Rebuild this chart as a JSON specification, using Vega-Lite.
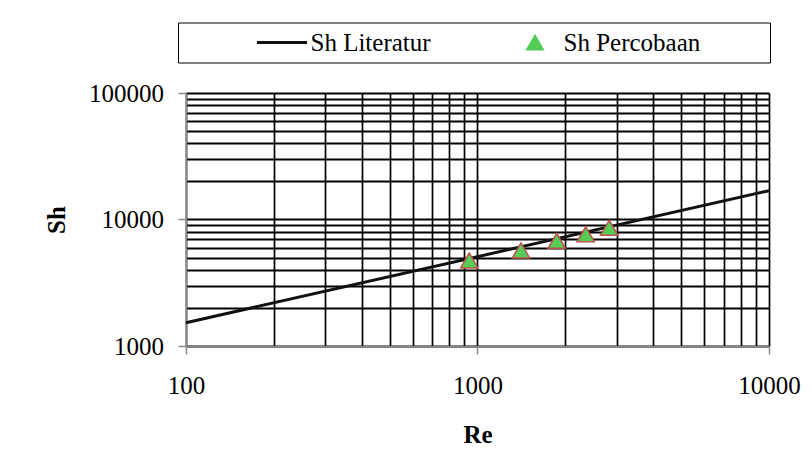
{
  "$schema": "https://vega.github.io/schema/vega-lite/v6.json",
  "width": 583,
  "height": 253,
  "autosize": {"type": "none"},
  "padding": {"left": 186, "top": 93, "right": 43, "bottom": 124},
  "background": "white",
  "config": {"view": {"stroke": null}, "font": "Liberation Serif"},
  "data": {
    "values": [
      {"series": "Sh Literatur", "Re": 100, "Sh": 1528},
      {"series": "Sh Literatur", "Re": 10000, "Sh": 16900},
      {"series": "Sh Percobaan", "Re": 937, "Sh": 4740},
      {"series": "Sh Percobaan", "Re": 1410, "Sh": 5690},
      {"series": "Sh Percobaan", "Re": 1870, "Sh": 6790},
      {"series": "Sh Percobaan", "Re": 2350, "Sh": 7640},
      {"series": "Sh Percobaan", "Re": 2830, "Sh": 8600}
    ]
  },
  "encoding": {
    "x": {
      "field": "Re",
      "type": "quantitative",
      "scale": {"type": "log", "domain": [100, 10000], "nice": false},
      "axis": {
        "values": [100, 200, 300, 400, 500, 600, 700, 800, 900, 1000, 2000, 3000, 4000, 5000, 6000, 7000, 8000, 9000, 10000],
        "labelExpr": "datum.value == 100 || datum.value == 1000 || datum.value == 10000 ? format(datum.value, 'd') : ''",
        "labelFont": "Liberation Serif",
        "labelFontSize": 25,
        "labelColor": "#000000",
        "labelPadding": 19,
        "labelFlush": false,
        "labelOverlap": false,
        "tickSize": 8,
        "tickColor": "#888888",
        "tickWidth": 1.5,
        "tickOpacity": {"condition": {"test": "datum.value == 100 || datum.value == 1000 || datum.value == 10000", "value": 1}, "value": 0},
        "domainColor": "#888888",
        "domainWidth": 1.5,
        "grid": true,
        "gridColor": "#000000",
        "gridWidth": 1.7,
        "gridOpacity": 1,
        "title": "Re",
        "titleFont": "Liberation Serif",
        "titleFontSize": 25,
        "titleFontWeight": "bold",
        "titleColor": "#000000",
        "titlePadding": 24
      }
    },
    "y": {
      "field": "Sh",
      "type": "quantitative",
      "scale": {"type": "log", "domain": [1000, 100000], "nice": false},
      "axis": {
        "values": [1000, 2000, 3000, 4000, 5000, 6000, 7000, 8000, 9000, 10000, 20000, 30000, 40000, 50000, 60000, 70000, 80000, 90000, 100000],
        "labelExpr": "datum.value == 1000 || datum.value == 10000 || datum.value == 100000 ? format(datum.value, 'd') : ''",
        "labelFont": "Liberation Serif",
        "labelFontSize": 25,
        "labelColor": "#000000",
        "labelPadding": 14.5,
        "labelOverlap": false,
        "labelFlush": false,
        "tickSize": 8,
        "tickColor": "#888888",
        "tickWidth": 1.5,
        "tickOpacity": {"condition": {"test": "datum.value == 1000 || datum.value == 10000 || datum.value == 100000", "value": 1}, "value": 0},
        "domainColor": "#888888",
        "domainWidth": 1.5,
        "grid": true,
        "gridColor": "#000000",
        "gridWidth": 2,
        "gridOpacity": 1,
        "title": "Sh",
        "titleFont": "Liberation Serif",
        "titleFontSize": 25,
        "titleFontWeight": "bold",
        "titleColor": "#000000",
        "titlePadding": 19.5
      }
    },
    "color": {
      "field": "series",
      "type": "nominal",
      "scale": {"domain": ["Sh Literatur", "Sh Percobaan"], "range": ["#111111", "#55cc55"]},
      "legend": {
        "title": " ",
        "titleOrient": "right",
        "titlePadding": 63,
        "titleFont": "Liberation Serif",
        "titleFontSize": 25,
        "orient": "none",
        "legendX": -8,
        "legendY": -70.5,
        "columns": 2,
        "columnPadding": 7,
        "padding": 7,
        "strokeColor": "#000000",
        "clipHeight": 26,
        "symbolSize": 2500,
        "symbolStrokeWidth": 3,
        "symbolOffset": 84.5,
        "labelOffset": 16,
        "labelFont": "Liberation Serif",
        "labelFontSize": 25,
        "labelColor": "#000000",
        "labelLimit": 400,
        "encode": {
          "symbols": {
            "update": {
              "shape": {"signal": "datum.value === 'Sh Literatur' ? 'stroke' : 'triangle-up'"},
              "size": {"signal": "datum.value === 'Sh Literatur' ? 2500 : 280"},
              "fill": {"signal": "datum.value === 'Sh Literatur' ? 'transparent' : '#55cc55'"},
              "stroke": {"signal": "datum.value === 'Sh Literatur' ? '#111111' : '#c0504d'"},
              "strokeWidth": {"signal": "datum.value === 'Sh Literatur' ? 3 : 1.5"},
              "opacity": {"value": 1},
              "fillOpacity": {"value": 1},
              "strokeOpacity": {"value": 1}
            }
          },
          "labels": {
            "update": {
              "font": {"value": "Liberation Serif"},
              "fontSize": {"value": 25},
              "fill": {"value": "#000000"}
            }
          }
        }
      }
    }
  },
  "layer": [
    {
      "transform": [{"filter": "datum.series === 'Sh Literatur'"}],
      "mark": {"type": "line", "strokeWidth": 3}
    },
    {
      "transform": [{"filter": "datum.series === 'Sh Percobaan'"}],
      "mark": {"type": "point", "filled": true, "shape": "triangle-up", "size": 300, "stroke": "#c0504d", "strokeWidth": 1.5, "opacity": 1}
    }
  ]
}
